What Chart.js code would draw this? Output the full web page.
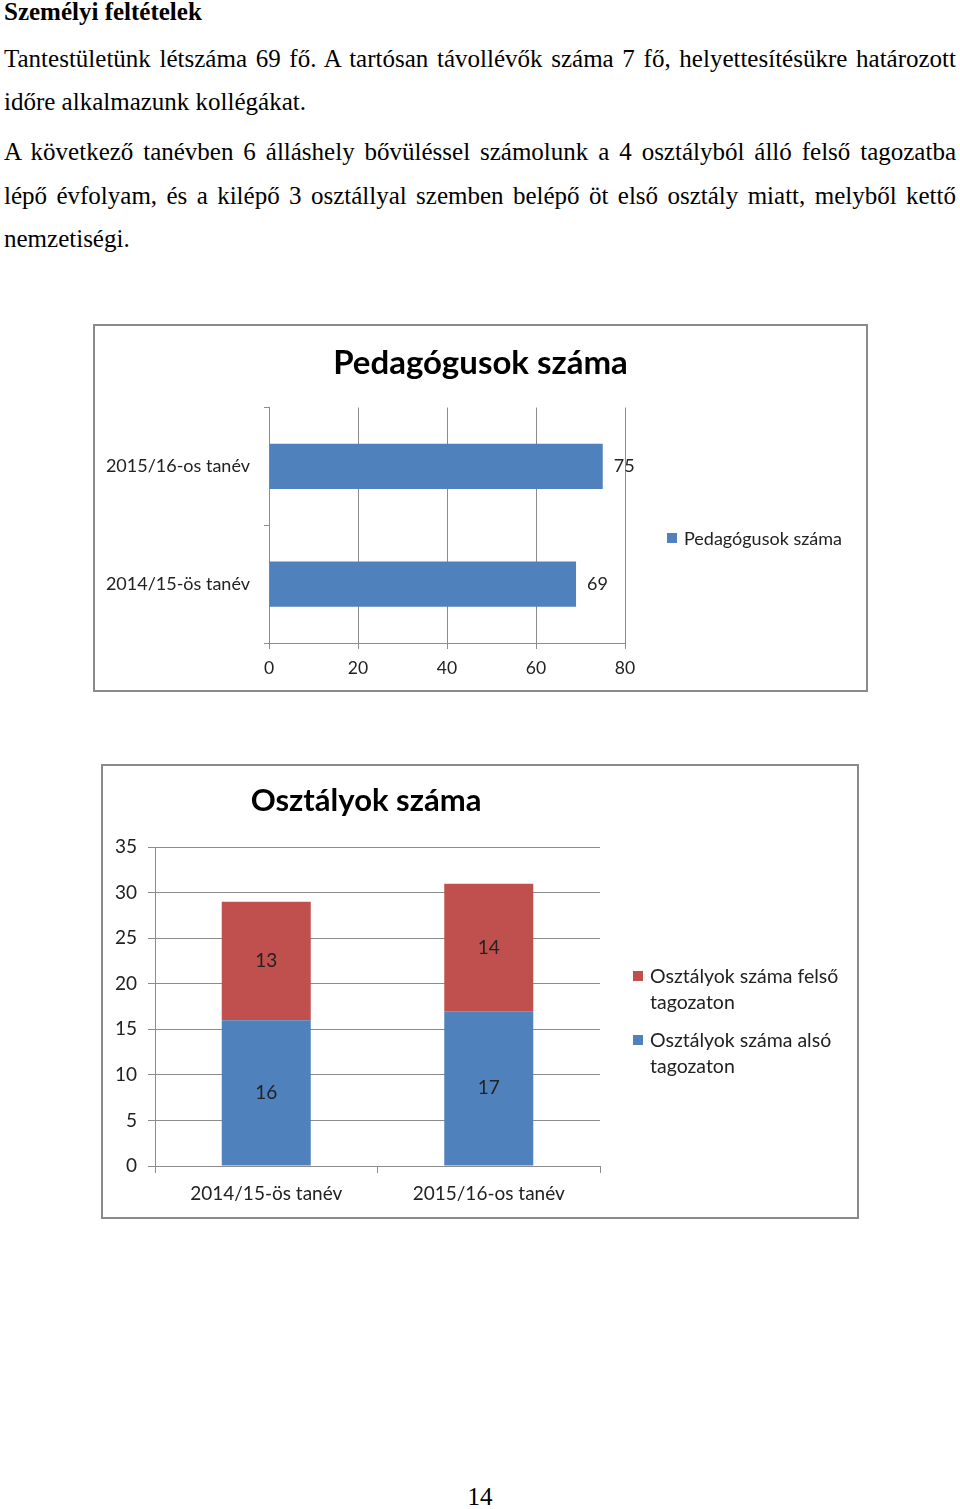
<!DOCTYPE html>
<html lang="hu">
<head>
<meta charset="utf-8">
<title>Személyi feltételek</title>
<script src="https://cdn.jsdelivr.net/npm/chart.js@4/dist/chart.umd.min.js"></script>
<style>
  body { margin:0; background:#fff; }
  #page { position:relative; width:960px; height:1509px; overflow:hidden; font-family:'Liberation Serif','Times New Roman',serif; color:#000; }
  .ln { position:absolute; left:4px; width:952px; font-family:'Liberation Serif',serif; font-size:25px; line-height:44px; white-space:nowrap; text-align:justify; text-align-last:justify; }
  .ln.last { text-align-last:left; }
  .box { position:absolute; border:2px solid #8a8a8a; box-sizing:border-box; }
  .cv { position:absolute; }
  .lg { position:absolute; font-family:Lato, sans-serif; color:#222; }
  .lg i { position:absolute; width:10px; height:10px; }
</style>
</head>
<body>
<div id="page">
  <div style="position:absolute;left:4px;top:-1px;font-size:25px;font-weight:bold;line-height:26px;">Személyi feltételek</div>
  <div class="ln" style="top:37px">Tantestületünk létszáma 69 fő. A tartósan távollévők száma 7 fő, helyettesítésükre határozott</div>
  <div class="ln last" style="top:80px">időre alkalmazunk kollégákat.</div>
  <div class="ln" style="top:130px">A következő tanévben 6 álláshely bővüléssel számolunk a 4 osztályból álló felső tagozatba</div>
  <div class="ln" style="top:174px">lépő évfolyam, és a kilépő 3 osztállyal szemben belépő öt első osztály miatt, melyből kettő</div>
  <div class="ln last" style="top:217px">nemzetiségi.</div>

  <div class="cv" style="left:93px;top:324px;width:775px;height:368px;"><canvas id="teachers"></canvas></div>
  <div class="box" style="left:93px;top:324px;width:775px;height:368px;"></div>
  <div id="legend1"></div>

  <div class="cv" style="left:101px;top:764px;width:530px;height:455px;"><canvas id="classes"></canvas></div>
  <div class="box" style="left:101px;top:764px;width:758px;height:455px;"></div>
  <div id="legend2"></div>

  <div style="position:absolute;left:0;width:960px;top:1484px;text-align:center;font-size:25px;line-height:26px;">14</div>
</div>
<script>
// data
var teacherYears = ['2014/15-ös tanév', '2015/16-os tanév'];
var teacherCounts = [69, 75];

var classYears = ['2014/15-ös tanév', '2015/16-os tanév'];
var lowerClasses = [16, 17];   // alsó tagozat
var upperClasses = [13, 14];   // felső tagozat

var BLUE = '#4F81BD';
var RED = '#C0504D';
var GRID = '#8c8c8c';

Chart.defaults.font.family = 'Lato';
Chart.defaults.color = '#222';
Chart.defaults.animation = false;

// value labels on the bars
var valueLabels = {
  id: 'valueLabels',
  afterDatasetsDraw: function(chart, args, opts) {
    var ctx = chart.ctx;
    ctx.save();
    ctx.font = opts.font;
    ctx.fillStyle = opts.color;
    ctx.textBaseline = 'middle';
    chart.data.datasets.forEach(function(ds, i) {
      chart.getDatasetMeta(i).data.forEach(function(bar, j) {
        var v = ds.data[j];
        if (opts.position === 'end') {
          ctx.textAlign = 'left';
          ctx.fillText(v, bar.x + opts.offset, bar.y);
        } else {
          var c = bar.getCenterPoint();
          ctx.textAlign = 'center';
          ctx.fillText(v, c.x, c.y);
        }
      });
    });
    ctx.restore();
  }
};

// title centred on the whole canvas, not only on the padded part
var wideTitle = {
  id: 'wideTitle',
  afterLayout: function(chart) {
    if (chart.titleBlock) {
      chart.titleBlock.left = 0;
      chart.titleBlock.right = chart.width;
    }
  }
};

function htmlLegend(el, datasets, x, y, step, width, size, lineH) {
  var html = '';
  datasets.forEach(function(ds, k) {
    var top = y + k * step;
    html += '<div class="lg" style="left:' + x + 'px;top:' + top + 'px;width:' + width + 'px;font-size:' + size + 'px;line-height:' + lineH + 'px;padding-left:17px;">' +
      '<i style="left:0;top:' + (lineH / 2 - 5) + 'px;background:' + ds.backgroundColor + '"></i>' + ds.label + '</div>';
  });
  document.getElementById(el).innerHTML = html;
}

var teachersChart = new Chart(document.getElementById('teachers'), {
  type: 'bar',
  data: {
    labels: teacherYears,
    datasets: [{
      label: 'Pedagógusok száma',
      data: teacherCounts,
      backgroundColor: BLUE,
      barPercentage: 0.385,
      categoryPercentage: 1
    }]
  },
  options: {
    indexAxis: 'y',
    responsive: true,
    maintainAspectRatio: false,
    layout: { padding: { top: 0, right: 243, bottom: 0, left: 0 } },
    plugins: {
      legend: { display: false },
      tooltip: { enabled: false },
      title: {
        display: true,
        text: 'Pedagógusok száma',
        color: '#000',
        font: { size: 33, weight: 'bold' },
        padding: { top: 20, bottom: 24 }
      },
      valueLabels: { position: 'end', offset: 11, font: '18px Lato', color: '#222' }
    },
    scales: {
      x: {
        min: 0, max: 80,
        ticks: { stepSize: 20, padding: 9, font: { size: 17.5 }, color: '#222' },
        grid: { color: GRID, tickLength: 6 },
        border: { color: GRID },
        afterFit: function(s) { s.height = 49; }
      },
      y: {
        reverse: true,
        ticks: { padding: 14, font: { size: 18 }, color: '#222' },
        grid: { drawOnChartArea: false, color: GRID, tickLength: 5, offset: true },
        border: { color: GRID },
        afterFit: function(s) { s.width = 176; }
      }
    }
  },
  plugins: [valueLabels, wideTitle]
});
htmlLegend('legend1', teachersChart.data.datasets, 667, 526, 0, 200, 18, 24);

var classesChart = new Chart(document.getElementById('classes'), {
  type: 'bar',
  data: {
    labels: classYears,
    datasets: [{
      label: 'Osztályok száma alsó tagozaton',
      data: lowerClasses,
      backgroundColor: BLUE,
      barPercentage: 0.4,
      categoryPercentage: 1
    }, {
      label: 'Osztályok száma felső tagozaton',
      data: upperClasses,
      backgroundColor: RED,
      barPercentage: 0.4,
      categoryPercentage: 1
    }]
  },
  options: {
    responsive: true,
    maintainAspectRatio: false,
    layout: { padding: { top: 0, right: 31, bottom: 0, left: 0 } },
    plugins: {
      legend: { display: false },
      tooltip: { enabled: false },
      title: {
        display: true,
        text: 'Osztályok száma',
        color: '#000',
        font: { size: 31, weight: 'bold' },
        padding: { top: 18, bottom: 28 }
      },
      valueLabels: { position: 'center', font: '19px Lato', color: '#222' }
    },
    scales: {
      x: {
        stacked: true,
        ticks: { padding: 9, font: { size: 19 }, color: '#222' },
        grid: { drawOnChartArea: false, color: GRID, tickLength: 7, offset: true },
        border: { color: GRID },
        afterFit: function(s) { s.height = 53; }
      },
      y: {
        stacked: true,
        min: 0, max: 35,
        ticks: { stepSize: 5, padding: 11, font: { size: 19 }, color: '#222' },
        grid: { color: GRID, tickLength: 7 },
        border: { color: GRID },
        afterFit: function(s) { s.width = 54; }
      }
    }
  },
  plugins: [valueLabels, wideTitle]
});
// legend in Excel order: upper series first
htmlLegend('legend2', classesChart.data.datasets.slice().reverse(), 633, 963, 64, 220, 19.5, 26);
</script>
</body>
</html>
